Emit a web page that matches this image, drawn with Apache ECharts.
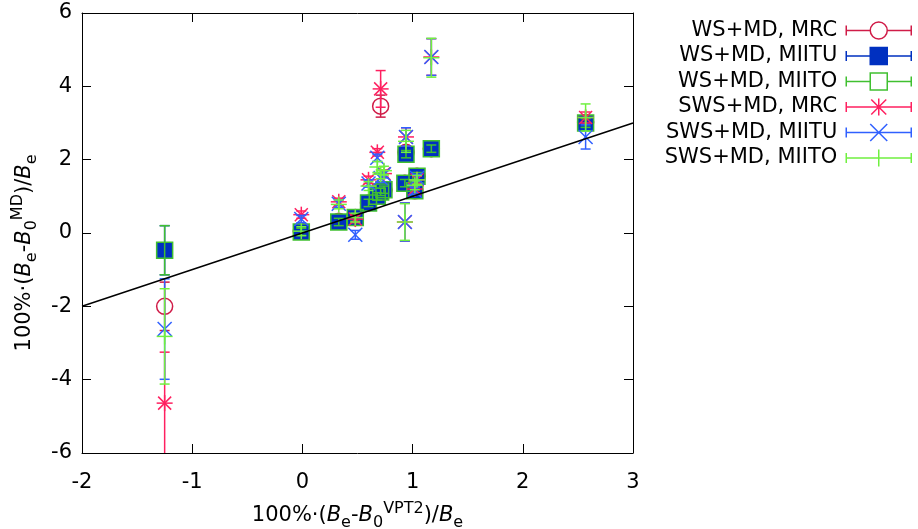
<!DOCTYPE html>
<html>
<head>
<meta charset="utf-8">
<script src="https://cdn.jsdelivr.net/npm/echarts@6/dist/echarts.min.js"></script>
<style>html,body{margin:0;padding:0;background:#fff;}#c{width:918px;height:529px;}</style>
</head>
<body>
<div id="c"></div>
<script>
// ---- data (x = 100%·(Be-B0^VPT2)/Be, one entry per molecule) ----
const xVals      = [-1.25, -0.01, 0.33, 0.48, 0.60, 0.68, 0.71, 0.74, 0.93, 0.94, 1.02, 1.04, 1.17, 2.57];
const wsMrc      = [-2.00, 0.05, 0.32, 0.42, 0.82, 1.00, 3.46, 1.18, 1.36, 2.20, 1.15, 1.55, 2.30, 3.02];
const wsMrcErr   = [0.66, 0.10, 0.10, 0.10, 0.10, 0.10, 0.30, 0.10, 0.10, 0.10, 0.10, 0.10, 0.10, 0.12];
const wsMiitu    = [-0.47, 0.03, 0.30, 0.42, 0.82, 1.00, 1.12, 1.18, 1.36, 2.15, 1.15, 1.55, 2.30, 3.00];
const wsMiituErr = [0.67, 0.10, 0.10, 0.10, 0.10, 0.10, 0.10, 0.10, 0.10, 0.10, 0.10, 0.10, 0.10, 0.12];
const wsMiito    = [-0.47, 0.03, 0.30, 0.42, 0.82, 1.00, 1.12, 1.18, 1.36, 2.15, 1.15, 1.55, 2.30, 3.00];
const wsMiitoErr = [0.67, 0.10, 0.10, 0.10, 0.10, 0.10, 0.10, 0.10, 0.10, 0.10, 0.10, 0.10, 0.10, 0.12];
const swsMrc     = [-4.64, 0.50, 0.85, 0.38, 1.45, 2.20, 3.93, 1.62, 0.30, 2.62, 1.20, 1.45, 4.80, 3.15];
const swsMrcErr  = [1.39, 0.10, 0.10, 0.10, 0.10, 0.10, 0.50, 0.10, 0.52, 0.25, 0.10, 0.10, 0.50, 0.15];
const swsMiitu   = [-2.62, 0.38, 0.80, -0.05, 1.35, 2.05, 1.50, 1.60, 0.30, 2.62, 1.15, 1.50, 4.80, 2.62];
const swsMiituErr= [1.37, 0.10, 0.10, 0.12, 0.10, 0.10, 0.12, 0.10, 0.52, 0.25, 0.10, 0.10, 0.50, 0.33];
const swsMiito   = [-2.82, 0.05, 0.78, 0.42, 1.28, 1.80, 1.60, 1.70, 0.30, 2.50, 1.30, 1.45, 4.78, 3.15];
const swsMiitoErr= [1.30, 0.12, 0.12, 0.12, 0.12, 0.15, 0.12, 0.12, 0.50, 0.30, 0.12, 0.12, 0.53, 0.37];
// reference line y = x
const lineX = [-2, 3];
const lineY = [-2, 3];
// tick settings
const xTicks = {min: -2, max: 3, interval: 1};
const yTicks = {min: -6, max: 6, interval: 2};

const FONT = 'DejaVu Sans';
const FS = 21;
const C = {
  wsMrc: '#d01c48', wsMiitu: '#0030c0', wsMiito: '#40c030',
  swsMrc: '#ff2060', swsMiitu: '#3060ff', swsMiito: '#70f040'
};

function marker(shape, cx, cy, color) {
  const r = 8;
  const ls = {stroke: color, lineWidth: 1.5, fill: null};
  const L = (x1, y1, x2, y2) => ({type: 'line', shape: {x1, y1, x2, y2}, style: ls});
  switch (shape) {
    case 'circle': return [{type: 'circle', shape: {cx, cy, r: 8}, style: {stroke: color, lineWidth: 1.5, fill: null}}];
    case 'fsquare': return [{type: 'rect', shape: {x: cx - 7.5, y: cy - 7.5, width: 15, height: 15}, style: {fill: color, stroke: color, lineWidth: 1}}];
    case 'osquare': return [{type: 'rect', shape: {x: cx - 8, y: cy - 8, width: 16, height: 16}, style: {fill: null, stroke: color, lineWidth: 1.5}}];
    case 'star': return [L(cx - r, cy, cx + r, cy), L(cx, cy - r, cx, cy + r), L(cx - 6.5, cy - 6.5, cx + 6.5, cy + 6.5), L(cx - 6.5, cy + 6.5, cx + 6.5, cy - 6.5)];
    case 'cross': return [L(cx - 7, cy - 7, cx + 7, cy + 7), L(cx - 7, cy + 7, cx + 7, cy - 7)];
    case 'plus': return [L(cx - r, cy, cx + r, cy), L(cx, cy - r, cx, cy + r)];
  }
  return [];
}

function errSeries(name, ys, errs, color, shape) {
  return {
    type: 'custom', name, clip: true,
    data: xVals.map((x, i) => [x, ys[i], errs[i]]),
    encode: {x: 0, y: 1},
    itemStyle: {color},
    renderItem: function (params, api) {
      const x = api.value(0), y = api.value(1), e = api.value(2);
      const c = api.coord([x, y]);
      const t = api.coord([x, y + e]);
      const b = api.coord([x, y - e]);
      const ls = {stroke: color, lineWidth: 1.5, fill: null};
      const ch = [
        {type: 'line', shape: {x1: c[0], y1: t[1], x2: c[0], y2: b[1]}, style: ls},
        {type: 'line', shape: {x1: c[0] - 5, y1: t[1], x2: c[0] + 5, y2: t[1]}, style: ls},
        {type: 'line', shape: {x1: c[0] - 5, y1: b[1], x2: c[0] + 5, y2: b[1]}, style: ls}
      ].concat(marker(shape, c[0], c[1], color));
      return {type: 'group', children: ch};
    }
  };
}

// legend icons (65 x 17)
const base = 'M0,3.5L0,13.5M65,3.5L65,13.5';
const icons = {
  circle: 'path://' + base + 'M0,8.5L24,8.5M41,8.5L65,8.5M24,8.5A8.5,8.5,0,1,1,41,8.5A8.5,8.5,0,1,1,24,8.5Z',
  square: 'path://' + base + 'M0,8.5L24,8.5M41,8.5L65,8.5M24,0L41,0L41,17L24,17Z',
  star: 'path://' + base + 'M0,8.5L65,8.5M32.5,0L32.5,17M25,1L40,16M25,16L40,1',
  cross: 'path://' + base + 'M0,8.5L65,8.5M24,0L41,17M24,17L41,0',
  plus: 'path://' + base + 'M0,8.5L65,8.5M32.5,0L32.5,17'
};

const rich = {
  i: {fontStyle: 'italic', fontSize: FS, fontFamily: FONT, color: '#000', lineHeight: 30},
  sub: {fontSize: 16, fontFamily: FONT, color: '#000', verticalAlign: 'bottom', lineHeight: 14},
  sup: {fontSize: 16, fontFamily: FONT, color: '#000', verticalAlign: 'top', lineHeight: 14}
};

const axisCommon = {
  type: 'value',
  axisLine: {show: true, onZero: false, lineStyle: {color: '#000', width: 1}},
  axisTick: {show: true, inside: true, length: 9, lineStyle: {color: '#000', width: 1}},
  splitLine: {show: false}
};

const chart = echarts.init(document.getElementById('c'), null, {renderer: 'canvas'});
chart.setOption({
  animation: false,
  backgroundColor: '#fff',
  textStyle: {fontFamily: FONT},
  grid: {left: 82, right: 285, top: 13, bottom: 76, containLabel: false, outerBoundsMode: 'none'},
  xAxis: [
    Object.assign({}, axisCommon, xTicks, {
      position: 'bottom',
      axisLabel: {color: '#000', fontSize: FS, fontFamily: FONT, margin: 19},
      name: '100%·({i|B}{sub|e}-{i|B}{sub|0}{sup|VPT2})/{i|B}{sub|e}',
      nameLocation: 'middle', nameGap: 48,
      nameTextStyle: {color: '#000', fontSize: FS, fontFamily: FONT, lineHeight: 30, rich}
    }),
    Object.assign({}, axisCommon, xTicks, {position: 'top', axisLabel: {show: false}})
  ],
  yAxis: [
    Object.assign({}, axisCommon, yTicks, {
      position: 'left',
      axisLabel: {color: '#000', fontSize: FS, fontFamily: FONT, margin: 10},
      name: '100%·({i|B}{sub|e}-{i|B}{sub|0}{sup|MD})/{i|B}{sub|e}',
      nameLocation: 'middle', nameGap: 42, nameRotate: 90,
      nameTextStyle: {color: '#000', fontSize: FS, fontFamily: FONT, lineHeight: 30, padding: [0, 40, 0, 0], rich}
    }),
    Object.assign({}, axisCommon, yTicks, {position: 'right', axisLabel: {show: false}})
  ],
  legend: {
    orient: 'vertical', right: 1, top: 15, align: 'right',
    itemWidth: 65, itemHeight: 17, itemGap: 4.5,
    selectedMode: false,
    textStyle: {color: '#000', fontSize: FS, fontFamily: FONT, padding: [0, 4, 0, 0]},
    data: [
      {name: 'WS+MD, MRC', icon: icons.circle, itemStyle: {color: 'transparent', borderColor: C.wsMrc, borderWidth: 1.5}},
      {name: 'WS+MD, MIITU', icon: icons.square, itemStyle: {color: C.wsMiitu, borderColor: C.wsMiitu, borderWidth: 1.5}},
      {name: 'WS+MD, MIITO', icon: icons.square, itemStyle: {color: 'transparent', borderColor: C.wsMiito, borderWidth: 1.5}},
      {name: 'SWS+MD, MRC', icon: icons.star, itemStyle: {color: 'transparent', borderColor: C.swsMrc, borderWidth: 1.5}},
      {name: 'SWS+MD, MIITU', icon: icons.cross, itemStyle: {color: 'transparent', borderColor: C.swsMiitu, borderWidth: 1.5}},
      {name: 'SWS+MD, MIITO', icon: icons.plus, itemStyle: {color: 'transparent', borderColor: C.swsMiito, borderWidth: 1.5}}
    ]
  },
  series: [
    {type: 'line', name: 'fit', data: lineX.map((x, i) => [x, lineY[i]]), symbol: 'none', silent: true,
     lineStyle: {color: '#000', width: 1.5}, itemStyle: {color: '#000'}},
    errSeries('WS+MD, MRC', wsMrc, wsMrcErr, C.wsMrc, 'circle'),
    errSeries('WS+MD, MIITU', wsMiitu, wsMiituErr, C.wsMiitu, 'fsquare'),
    errSeries('WS+MD, MIITO', wsMiito, wsMiitoErr, C.wsMiito, 'osquare'),
    errSeries('SWS+MD, MRC', swsMrc, swsMrcErr, C.swsMrc, 'star'),
    errSeries('SWS+MD, MIITU', swsMiitu, swsMiituErr, C.swsMiitu, 'cross'),
    errSeries('SWS+MD, MIITO', swsMiito, swsMiitoErr, C.swsMiito, 'plus')
  ]
});
</script>
</body>
</html>
